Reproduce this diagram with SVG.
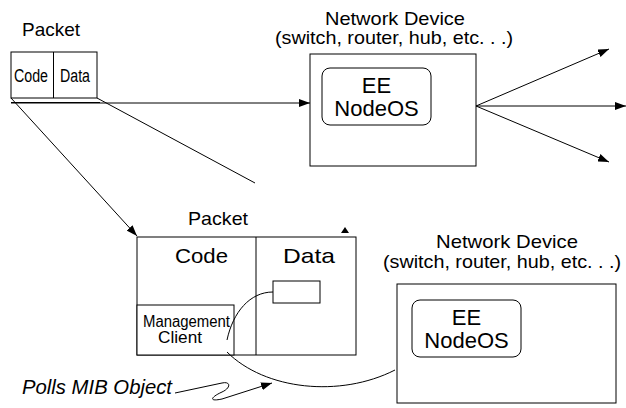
<svg xmlns="http://www.w3.org/2000/svg" width="626" height="408" viewBox="0 0 626 408">
<style>
text{font-family:"Liberation Sans",Arial,Helvetica,sans-serif;fill:#000}
.box{fill:#fff;stroke:#000;stroke-width:1}
.ln{fill:none;stroke:#000;stroke-width:1}
.lbl{font-size:19px}
.big{font-size:22px}
.mid{font-size:21px}
</style>
<defs>
<marker id="ah" markerUnits="userSpaceOnUse" markerWidth="12" markerHeight="8" refX="11" refY="4" orient="auto">
<path d="M0,0 L11,4 L0,8 z" fill="#000"/>
</marker>
</defs>
<rect width="626" height="408" fill="#fff"/>

<g id="packet-top">
<text class="lbl" x="22" y="36" textLength="58" lengthAdjust="spacingAndGlyphs">Packet</text>
<rect class="box" x="11" y="52" width="86" height="46"/>
<line class="ln" x1="53.5" y1="52" x2="53.5" y2="98"/>
<text x="14" y="82" font-size="18" textLength="34" lengthAdjust="spacingAndGlyphs">Code</text>
<text x="60" y="82" font-size="18" textLength="30" lengthAdjust="spacingAndGlyphs">Data</text>
</g>

<g id="device-top">
<text class="lbl" x="325" y="25" textLength="140" lengthAdjust="spacingAndGlyphs">Network Device</text>
<text class="lbl" x="275" y="44" textLength="238" lengthAdjust="spacingAndGlyphs">(switch, router, hub, etc. . .)</text>
<rect class="box" x="310" y="54" width="166" height="112"/>
<rect class="box" x="322" y="68" width="109" height="57" rx="8"/>
<text class="big" x="376.5" y="93" text-anchor="middle">EE</text>
<text class="big" x="376.5" y="116" text-anchor="middle">NodeOS</text>
</g>

<g id="packet-bottom">
<text class="lbl" x="188" y="225" textLength="60" lengthAdjust="spacingAndGlyphs">Packet</text>
<rect class="box" x="137" y="237" width="219" height="118"/>
<line class="ln" x1="256" y1="237" x2="256" y2="355"/>
<text class="mid" x="175" y="263" textLength="53" lengthAdjust="spacingAndGlyphs">Code</text>
<text class="mid" x="283" y="263" textLength="52" lengthAdjust="spacingAndGlyphs">Data</text>
<rect class="box" x="273" y="281" width="47" height="22"/>
<rect class="box" x="137" y="305" width="97" height="50"/>
<text x="143" y="327" font-size="16" textLength="87" lengthAdjust="spacingAndGlyphs">Management</text>
<text x="158" y="343" font-size="16" textLength="44" lengthAdjust="spacingAndGlyphs">Client</text>
</g>

<g id="device-bottom">
<text class="lbl" x="436" y="248" textLength="142" lengthAdjust="spacingAndGlyphs">Network Device</text>
<text class="lbl" x="383" y="268" textLength="238" lengthAdjust="spacingAndGlyphs">(switch, router, hub, etc. . .)</text>
<rect class="box" x="397" y="284" width="219" height="119"/>
<rect class="box" x="412" y="300" width="109" height="57" rx="8"/>
<text class="big" x="466.5" y="325" text-anchor="middle">EE</text>
<text class="big" x="466.5" y="348" text-anchor="middle">NodeOS</text>
</g>

<g id="polls-label">
<text x="22" y="394" font-size="20" font-style="italic" textLength="150" lengthAdjust="spacingAndGlyphs">Polls MIB Object</text>
</g>

<g id="connectors">
<line class="ln" x1="11" y1="102.5" x2="100" y2="102.5" stroke-width="1.5"/>
<line class="ln" x1="11" y1="103" x2="310" y2="103" marker-end="url(#ah)"/>
<line class="ln" x1="11" y1="98" x2="137" y2="236" marker-end="url(#ah)"/>
<line class="ln" x1="97" y1="98" x2="255" y2="183"/>
<path d="M345,227 L341,233 L349,233 z" fill="#000"/>
<line class="ln" x1="476" y1="106" x2="609" y2="49" marker-end="url(#ah)"/>
<line class="ln" x1="476" y1="106" x2="626" y2="106" marker-end="url(#ah)"/>
<line class="ln" x1="476" y1="106" x2="609" y2="162" marker-end="url(#ah)"/>
<path class="ln" d="M227,340 C233,312 250,292 273,292"/>
<path class="ln" d="M227,352 C265,390 340,398 395,370"/>
<path class="ln" d="M175,393 L222,383 C231,381 231,388 222,392 C211,397 208,402 222,399 L272,383" marker-end="url(#ah)"/>
</g>
</svg>
